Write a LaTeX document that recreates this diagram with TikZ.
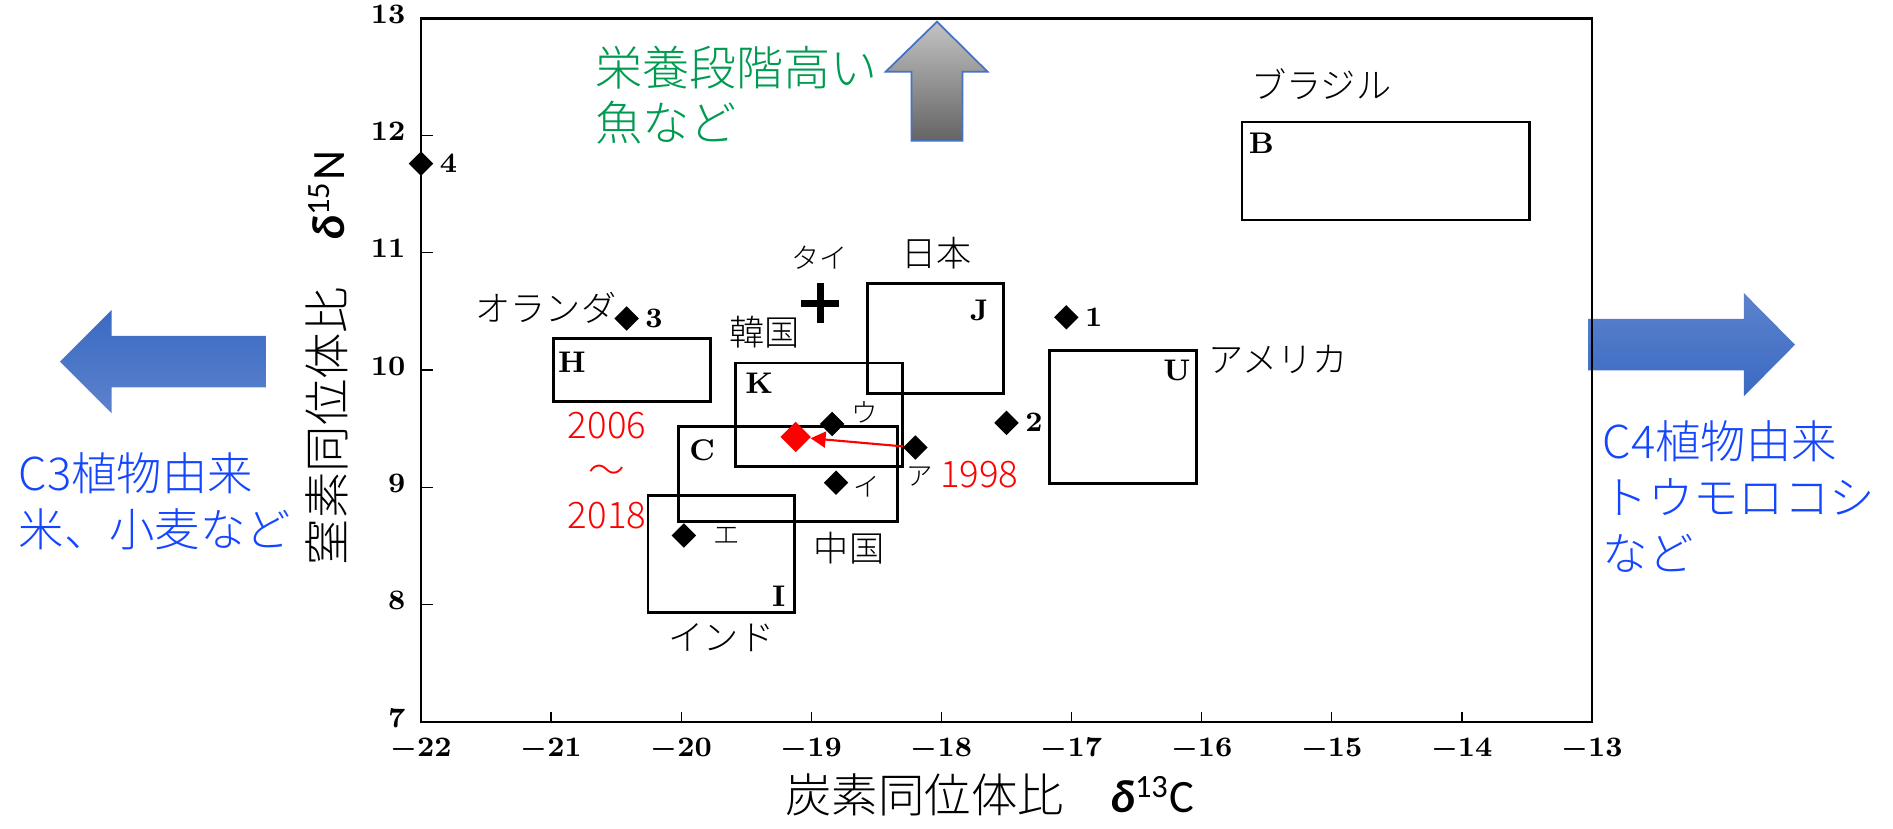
\documentclass[tikz,border=0pt]{standalone}
\usepackage{fontspec}
\usepackage{tikz}
\usetikzlibrary{positioning,shapes.geometric,arrows.meta}
\newfontfamily\jp{Noto Sans CJK JP}[UprightFont = * Light]
\newfontfamily\grk{Carlito}
\definecolor{jgreen}{RGB}{0,155,80}
\definecolor{jblue}{RGB}{20,70,255}
\definecolor{bltop}{RGB}{58,106,195}
\definecolor{blbot}{RGB}{92,130,204}
\definecolor{grtop}{RGB}{195,195,195}
\definecolor{grbot}{RGB}{100,100,100}
\definecolor{frm}{RGB}{68,114,196}

\begin{document}
\begin{tikzpicture}[mk/.style = { shape = diamond, fill, inner sep = 0, minimum size = 0.25cm },
    num/.style = { inner sep = 0, font = \fontsize{8.5}{9}\selectfont\bfseries\boldmath },
    kana/.style = { inner sep = 0, font = \jp\fontsize{7.5}{8}\selectfont },
    cty/.style = { inner sep = 0, font = \jp\fontsize{10}{12}\selectfont },
    area/.style = { draw, line width = 0.8pt },
    note/.style = { inner sep = 0, align = left, text = jblue, font = \jp\fontsize{12.9}{16}\selectfont },
    yrs/.style = { inner sep = 0, align = center, text = red, font = \jp\fontsize{10.4}{12.8}\selectfont },
    axl/.style = { inner sep = 0, font = \jp\fontsize{13.2}{15}\selectfont }]
  \useasboundingbox (0,0) rectangle (18.93,8.29);

  \shadedraw[draw = frm, line width = 0.5pt, top color = grtop, bottom color = grbot]
    (9.37,8.073) -- (9.875,7.573) -- (9.625,7.573) -- (9.625,6.883) -- (9.116,6.883) -- (9.116,7.573) -- (8.857,7.573) -- cycle;
  \shade[top color = bltop, bottom color = blbot]
    (0.60,4.673) -- (1.117,5.19) -- (1.117,4.931) -- (2.667,4.931) -- (2.667,4.415) -- (1.117,4.415) -- (1.117,4.156) -- cycle;
  \shade[top color = blbot, bottom color = bltop]
    (17.95,4.843) -- (17.438,5.36) -- (17.438,5.101) -- (15.88,5.101) -- (15.88,4.585) -- (17.438,4.585) -- (17.438,4.326) -- cycle;

  \node[note, text = jgreen, font = \jp\fontsize{13.4}{15.6}\selectfont, anchor = west] (fish) at (5.946,7.335) {栄養段階高い\\魚など};
  \node[note, anchor = west] (c3) at (0.18,3.275) {C3植物由来\\米、小麦など};
  \node[note, anchor = west] (c4) at (16.02,3.323) {C4植物由来\\トウモロコシ\\など};
  \node[axl, rotate = 90] (ylab) at (3.267,4.71) {窒素同位体比　{\grk{\bfseries\itshape δ}\textsuperscript{15}N}};
  \node[axl] (xlab) at (9.90,0.34) {炭素同位体比　{\grk{\bfseries\itshape δ}\textsuperscript{13}C}};

  \begin{scope}[x = 1.301cm, y = 1.173cm, xshift = 32.832cm, yshift = -7.141cm]
    \draw[line width = 0.8pt] (-22,7) rectangle (-13,13);
    \foreach \x in {-22,...,-13} {
      \draw (\x,7) -- ++(0,0.1cm);
      \node[num, anchor = north] (tx\x) at ([yshift = -0.15cm]\x,7) {$\x$};
    }
    \foreach \y in {7,...,13} {
      \draw (-22,\y) -- ++(0.12cm,0);
      \node[num, anchor = east] (ty\y) at ([xshift = -0.15cm, yshift = 0.04cm]-22,\y) {$\y$};
    }

    \draw[area] (-20.98,9.73) rectangle (-19.775,10.27);
    \draw[area] (-19.58,9.18) rectangle (-18.30,10.06);
    \draw[area] (-18.57,9.80) rectangle (-17.52,10.74);
    \draw[area] (-20.02,8.71) rectangle (-18.34,9.52);
    \draw[area] (-20.255,7.93) rectangle (-19.13,8.93);
    \draw[area] (-17.17,9.03) rectangle (-16.04,10.17);
    \draw[area] (-15.69,11.28) rectangle (-13.48,12.115);
    \node[num] (H) at (-20.84,10.07) {H};
    \node[num] (K) at (-19.40,9.89) {K};
    \node[num] (J) at (-17.71,10.51) {J};
    \node[num] (C) at (-19.84,9.32) {C};
    \node[num] (I) at (-19.25,8.07) {I};
    \node[num] (U) at (-16.19,10.00) {U};
    \node[num] (B) at (-15.54,11.93) {B};

    \node[cty] (nl) at (-21.04,10.53) {オランダ};
    \node[cty] (kr) at (-19.36,10.32) {韓国};
    \node[cty] (ja) at (-18.04,11.00) {日本};
    \node[cty] (cn) at (-18.71,8.48) {中国};
    \node[cty] (in) at (-19.69,7.72) {インド};
    \node[cty] (us) at (-15.41,10.09) {アメリカ};
    \node[cty] (br) at (-15.08,12.44) {ブラジル};
    \node[kana, font = \jp\fontsize{8}{9}\selectfont] (th) at (-18.94,10.96) {タイ};
    \draw[line width = 2pt] (-18.93,10.57) ++(-0.19cm,0) -- ++(0.38cm,0)
      (-18.93,10.57) ++(0,-0.2cm) -- ++(0,0.4cm);

    \foreach \n/\x/\y in {4/-22/11.76, 3/-20.42/10.44, 2/-17.50/9.55, 1/-17.04/10.45} {
      \node[mk] (d\n) at (\x,\y) {};
      \node[num, right = 0.05cm of d\n] (l\n) {$\n$};
    }
    \node[mk] (pu) at (-18.84,9.54) {};
    \node[mk] (pi) at (-18.81,9.04) {};
    \node[mk] (pa) at (-18.20,9.34) {};
    \node[mk] (pe) at (-19.98,8.59) {};
    \node[kana, right = 0.05cm of pu, yshift = 0.12cm] (lu) {ウ};
    \node[kana, right = 0.04cm of pi, yshift = -0.04cm] (li) {イ};
    \node[kana, below = 0.05cm of pa, xshift = 0.04cm] (la) {ア};
    \node[kana, right = 0.16cm of pe] (le) {エ};

    \node[mk, fill = red, minimum size = 0.31cm] (now) at (-19.12,9.43) {};
    \draw[red, line width = 0.6pt, -{Triangle[length = 0.15cm, width = 0.16cm]}] (pa) -- (now);
    \node[yrs] (old) at (-17.71,9.11) {1998};
    \node[yrs] (span) at (-20.57,9.14) {2006\\～\\2018};
  \end{scope}
\end{tikzpicture}
\end{document}
